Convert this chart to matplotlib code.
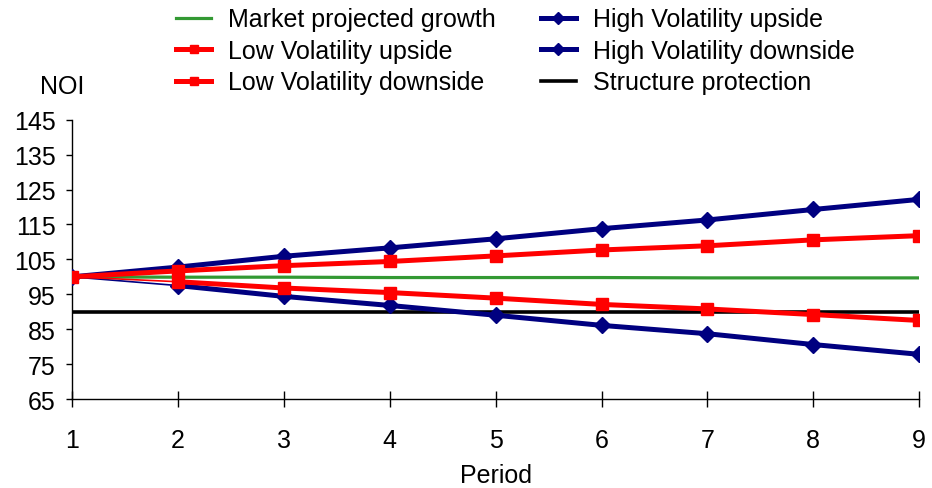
import matplotlib.pyplot as plt

plt.rcParams['font.family'] = ['Liberation Sans', 'DejaVu Sans']

# Данные
periods = [1, 2, 3, 4, 5, 6, 7, 8, 9]
market_growth = [100, 99.9, 99.9, 99.8, 99.8, 99.8, 99.7, 99.7, 99.7]
low_vol_up = [100, 101.7, 103.2, 104.4, 106.0, 107.7, 108.9, 110.6, 111.8]
low_vol_down = [100, 98.6, 96.8, 95.5, 93.9, 92.1, 90.8, 89.2, 87.5]
high_vol_up = [100, 102.8, 105.9, 108.3, 110.9, 113.8, 116.3, 119.3, 122.2]
high_vol_down = [100, 97.5, 94.4, 91.8, 89.0, 86.1, 83.7, 80.6, 77.8]
structure = [90, 90, 90, 90, 90, 90, 90, 90, 90]
y_ticks = [65, 75, 85, 95, 105, 115, 125, 135, 145]

GREEN = '#339933'
RED = '#ff0000'
NAVY = '#000080'
FS = 18

fig = plt.figure(figsize=(9.32, 4.89), dpi=100)
ax = fig.add_axes([0.0773, 0.182, 0.909, 0.571])

ax.plot(periods, market_growth, color=GREEN, lw=2.3, zorder=2,
        label='Market projected growth')
ax.plot(periods, low_vol_up, color=RED, lw=3.6, marker='s', ms=8.5,
        zorder=5, label='Low Volatility upside')
# у нисходящих сценариев первый отрезок тонкий
ax.plot(periods[:2], low_vol_down[:2], color=RED, lw=1.2, zorder=5)
ax.plot(periods[1:], low_vol_down[1:], color=RED, lw=3.6, marker='s', ms=8.5,
        zorder=5)
ax.plot([], [], color=RED, lw=3.6, marker='s', ms=8.5,
        label='Low Volatility downside')
ax.plot(periods, high_vol_up, color=NAVY, lw=3.6, marker='D', ms=8,
        zorder=4, label='High Volatility upside')
ax.plot(periods[:2], high_vol_down[:2], color=NAVY, lw=1.2, zorder=4)
ax.plot(periods[1:], high_vol_down[1:], color=NAVY, lw=3.6, marker='D', ms=8,
        zorder=4)
ax.plot([], [], color=NAVY, lw=3.6, marker='D', ms=8,
        label='High Volatility downside')
ax.plot(periods, structure, color='black', lw=2.6, zorder=3,
        label='Structure protection')

ax.set_xlim(1, 9)
ax.set_ylim(65, 145)
ax.set_xticks(periods)
ax.set_yticks(y_ticks)
ax.tick_params(axis='x', direction='inout', length=11.5, width=1,
               labelsize=FS, pad=15)
ax.tick_params(axis='y', direction='out', length=4, width=1,
               labelsize=FS, pad=8)
for side in ('top', 'right'):
    ax.spines[side].set_visible(False)
for side in ('left', 'bottom'):
    ax.spines[side].set_linewidth(1)

ax.set_xlabel('Period', fontsize=FS, labelpad=8)
fig.text(0.043, 0.822, 'NOI', fontsize=FS, ha='left', va='center')

fig.legend(loc='upper left', bbox_to_anchor=(0.189, 0.983), ncol=2,
           frameon=False, fontsize=FS, handlelength=1.4, handletextpad=0.68,
           columnspacing=1.8, labelspacing=0.3, markerscale=0.75,
           borderpad=0, borderaxespad=0)

fig.savefig('out.png', dpi=100)
